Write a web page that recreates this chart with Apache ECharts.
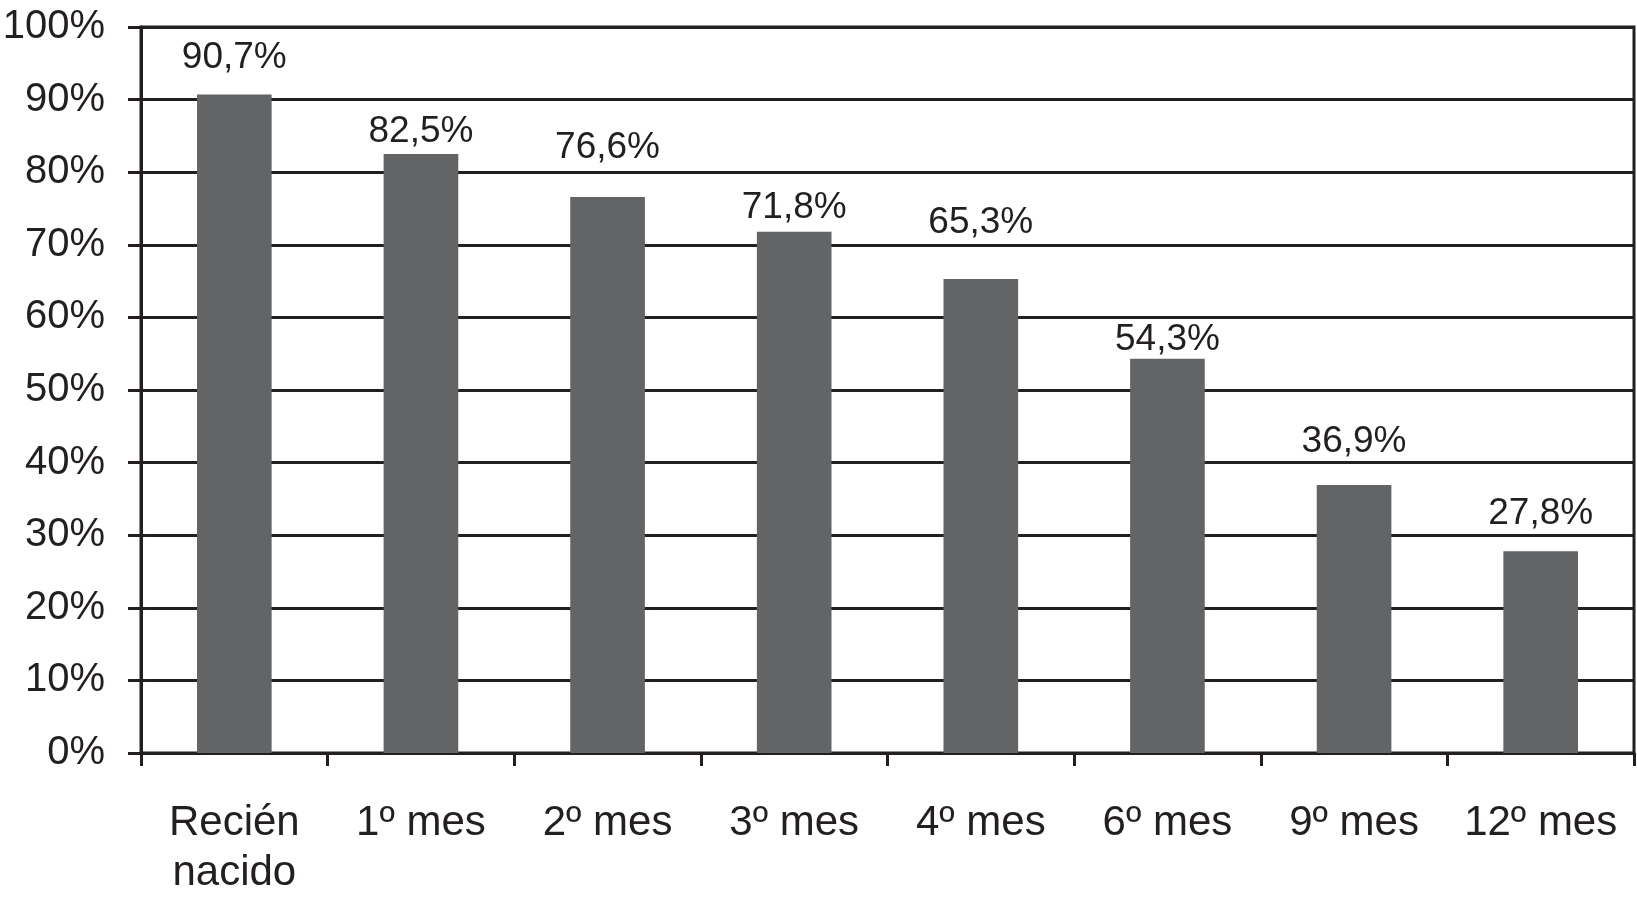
<!DOCTYPE html>
<html>
<head>
<meta charset="utf-8">
<style>
html,body{margin:0;padding:0;background:#fff;}
#chart{width:1637px;height:904px;}
</style>
<script src="https://cdn.jsdelivr.net/npm/echarts@6/dist/echarts.min.js"></script>
</head>
<body>
<div id="chart"></div>
<script>
const categories = ['Recién\nnacido', '1º mes', '2º mes', '3º mes', '4º mes', '6º mes', '9º mes', '12º mes'];
const values = [90.7, 82.5, 76.6, 71.8, 65.3, 54.3, 36.9, 27.8];
const yTicks = [0, 10, 20, 30, 40, 50, 60, 70, 80, 90, 100];

// layout only: gap (px) between each bar top and its value label, as placed in the original
const labelGaps = [18, 4, 31, 5, 38, 0, 25, 19];

const ink = '#231f20';
const font = 'Liberation Sans, Arial, sans-serif';
const chart = echarts.init(document.getElementById('chart'), null, {renderer: 'canvas'});
chart.setOption({
  animation: false,
  backgroundColor: '#ffffff',
  grid: {left: 141, right: 3, top: 27, bottom: 151, outerBoundsMode: 'none', containLabel: false,
         show: true, borderColor: ink, borderWidth: 3, backgroundColor: 'transparent'},
  xAxis: {
    type: 'category',
    data: categories,
    boundaryGap: true,
    axisLine: {show: true, lineStyle: {color: ink, width: 3}},
    axisTick: {show: true, alignWithLabel: false, length: 13, lineStyle: {color: ink, width: 3}},
    axisLabel: {color: ink, fontFamily: font, fontSize: 42, lineHeight: 50, margin: 45, interval: 0}
  },
  yAxis: {
    type: 'value',
    min: yTicks[0],
    max: yTicks[yTicks.length - 1],
    interval: 10,
    axisLine: {show: true, lineStyle: {color: ink, width: 3}},
    axisTick: {show: true, length: 13, lineStyle: {color: ink, width: 3}},
    splitLine: {show: true, lineStyle: {color: ink, width: 3}},
    axisLabel: {color: ink, fontFamily: font, fontSize: 40, margin: 36, formatter: '{value}%'}
  },
  series: [{
    type: 'bar',
    data: values.map((v, i) => ({value: v, label: {distance: labelGaps[i]}})),
    barWidth: '40%',
    itemStyle: {color: '#636466'},
    label: {
      show: true,
      position: 'top',
      color: ink,
      fontFamily: font,
      fontSize: 37,
      formatter: p => p.value.toFixed(1).replace('.', ',') + '%'
    }
  }]
});
</script>
</body>
</html>
